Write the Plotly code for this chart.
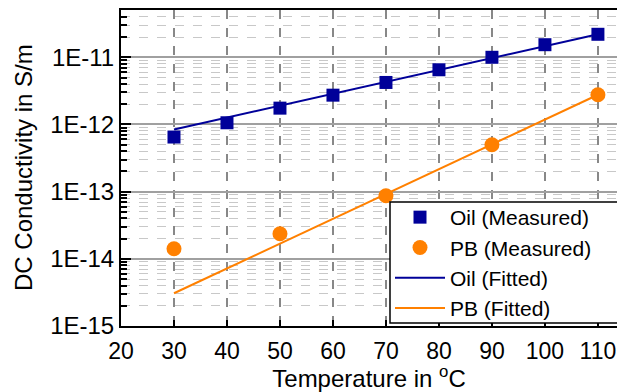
import plotly.graph_objects as go

# Measured DC conductivity (S/m) versus temperature (°C)
temperature = [30, 40, 50, 60, 70, 80, 90, 100, 110]
oil_measured = [6.5e-13, 1.06e-12, 1.75e-12, 2.73e-12, 4.22e-12, 6.52e-12, 1.0e-11, 1.54e-11, 2.2e-11]

pb_temperature = [30, 50, 70, 90, 110]
pb_measured = [1.41e-14, 2.36e-14, 8.7e-14, 5.0e-13, 2.77e-12]

# Fitted lines (straight in log space), evaluated at the ends of the range
fit_temperature = [30, 110]
oil_fitted = [8.43e-13, 2.2e-11]
pb_fitted = [3.07e-15, 2.77e-12]

y_tick_vals = [1e-15, 1e-14, 1e-13, 1e-12, 1e-11]
y_tick_text = ["1E-15", "1E-14", "1E-13", "1E-12", "1E-11"]
x_tick_vals = [20, 30, 40, 50, 60, 70, 80, 90, 100, 110]

BLUE = "#000099"
ORANGE = "#FF8000"
FONT = "Liberation Sans, Arial, sans-serif"

# plot area in pixels: left 121, right 617, top 10, bottom 326
PW, PH = 496, 316

fig = go.Figure()

fig.add_trace(go.Scatter(
    x=fit_temperature, y=oil_fitted, mode="lines", name="Oil (Fitted)",
    line=dict(color=BLUE, width=2), legendrank=3,
))
fig.add_trace(go.Scatter(
    x=fit_temperature, y=pb_fitted, mode="lines", name="PB (Fitted)",
    line=dict(color=ORANGE, width=2), legendrank=4,
))
fig.add_trace(go.Scatter(
    x=temperature, y=oil_measured, mode="markers", name="Oil (Measured)",
    marker=dict(symbol="square", size=13, color=BLUE), legendrank=1,
))
fig.add_trace(go.Scatter(
    x=pb_temperature, y=pb_measured, mode="markers", name="PB (Measured)",
    marker=dict(symbol="circle", size=15, color=ORANGE), legendrank=2,
))

minor_vals = [m * 10.0 ** e for e in range(-15, -10) for m in range(2, 10)]

# legend frame: white box running off the right edge of the figure
fig.add_shape(
    type="rect", xref="paper", yref="paper", layer="above",
    x0=(390 - 121) / PW, x1=1.1, y0=(326 - 323) / PH, y1=(326 - 202) / PH,
    fillcolor="white", line=dict(color="black", width=1.5),
)

# y-axis title placed as a rotated annotation
fig.add_annotation(
    text="DC Conductivity in S/m", textangle=-90,
    xref="paper", yref="paper", x=(23 - 121) / PW, y=0.5,
    xanchor="center", yanchor="middle", showarrow=False,
    font=dict(family=FONT, size=24, color="black"),
)

fig.update_layout(
    width=617, height=392,
    margin=dict(l=121, r=0, t=10, b=66),
    paper_bgcolor="white", plot_bgcolor="white",
    font=dict(family=FONT, size=24, color="black"),
    showlegend=True,
    legend=dict(
        x=(390 - 121) / PW, xanchor="left",
        y=(326 - 197) / PH, yanchor="top",
        bgcolor="rgba(0,0,0,0)", borderwidth=0,
        font=dict(family=FONT, size=21, color="black"),
        itemwidth=50, tracegroupgap=0,
    ),
    xaxis=dict(
        range=[20, 113.6],
        tickmode="array", tickvals=x_tick_vals,
        ticks="inside", ticklen=6, tickwidth=1.5, tickcolor="black",
        showline=True, linecolor="black", linewidth=2, mirror=True,
        showgrid=True, gridcolor="#888888", gridwidth=1.5, griddash="dash",
        zeroline=False, ticklabeloverflow="allow", ticklabelstandoff=3,
        tickfont=dict(size=23),
        title=dict(text="Temperature in <sup>o</sup>C", font=dict(size=24), standoff=2),
    ),
    yaxis=dict(
        type="log", range=[-15, -10.296],
        tickmode="array", tickvals=y_tick_vals, ticktext=y_tick_text,
        ticks="inside", ticklen=10, tickwidth=2, tickcolor="black",
        showline=True, linecolor="black", linewidth=2, mirror=False,
        showgrid=True, gridcolor="#a0a0a0", gridwidth=2,
        zeroline=False,
        tickfont=dict(size=24),
        minor=dict(
            tickmode="array", tickvals=minor_vals,
            ticks="inside", ticklen=6, tickwidth=1.5, tickcolor="black",
            showgrid=True, gridcolor="#c8c8c8", gridwidth=1.2, griddash="dash",
        ),
    ),
)

fig.write_html("out.html")
